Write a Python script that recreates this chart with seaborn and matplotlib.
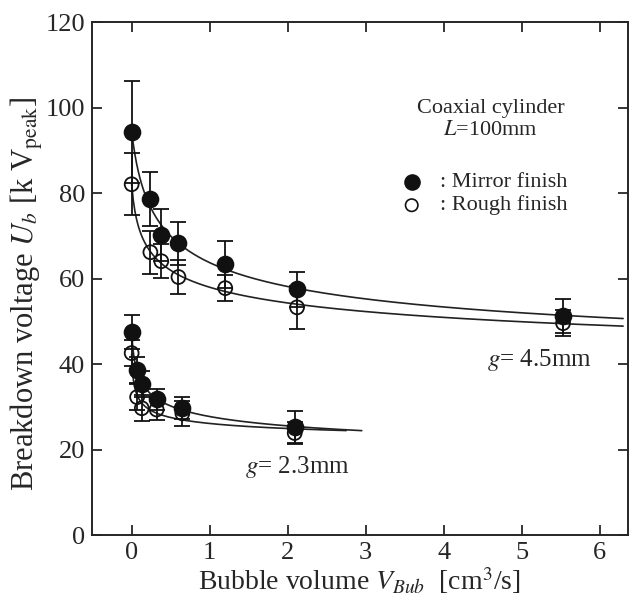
import numpy as np
import pandas as pd
import matplotlib
matplotlib.use("Agg")
import matplotlib.pyplot as plt
import seaborn as sns

# g = 4.5 mm
x45 = [0.0, 0.24, 0.38, 0.6, 1.2, 2.12, 5.53]
mirror45 = [94.3, 78.6, 70.2, 68.3, 63.4, 57.5, 51.2]
mirror45_err = [12.0, 6.3, 6.0, 5.0, 5.5, 4.0, 4.0]
rough45 = [82.1, 66.2, 64.1, 60.4, 57.8, 53.3, 49.6]
rough45_err = [7.2, 5.0, 4.0, 4.0, 3.0, 5.0, 3.0]

# g = 2.3 mm
x23 = [0.0, 0.07, 0.13, 0.32, 0.65, 2.09]
mirror23 = [47.5, 38.6, 35.3, 31.8, 29.7, 25.3]
mirror23_err = [4.0, 3.0, 3.0, 2.5, 2.6, 3.8]
rough23 = [42.6, 32.3, 29.7, 29.4, 28.5, 23.9]
rough23_err = [3.0, 3.0, 3.0, 2.5, 3.0, 2.6]

curve_end = {"m45": 6.3, "r45": 6.3, "m23": 2.95, "r23": 2.75}


def fit_curve(x, y, x_end):
    # U = a + b * (x + c)^(-n); c, n by grid search, a, b by least squares
    x = np.asarray(x)
    y = np.asarray(y)
    best = None
    for c in np.logspace(-2, 0.5, 80):
        for n in np.linspace(0.1, 3.0, 59):
            A = np.column_stack([np.ones_like(x), (x + c) ** (-n)])
            coef, _, _, _ = np.linalg.lstsq(A, y, rcond=None)
            r = np.sum((A @ coef - y) ** 2)
            if best is None or r < best[0]:
                best = (r, c, n, coef)
    _, c, n, (a, b) = best
    xs = np.linspace(0, x_end, 300)
    return xs, a + b * (xs + c) ** (-n)


sns.set_style("ticks")
plt.rcParams["font.family"] = ["Liberation Serif", "DejaVu Serif"]
plt.rcParams["mathtext.fontset"] = "stix"

fig = plt.figure(figsize=(6.38, 6.02), dpi=100)
ax = fig.add_axes([0.144, 0.111, 0.840, 0.852])

series = [
    (x45, mirror45, mirror45_err, True, "m45"),
    (x45, rough45, rough45_err, False, "r45"),
    (x23, mirror23, mirror23_err, True, "m23"),
    (x23, rough23, rough23_err, False, "r23"),
]

for x, y, err, filled, key in series:
    xs, ys = fit_curve(x, y, curve_end[key])
    sns.lineplot(x=xs, y=ys, ax=ax, color="#222222", lw=1.2, zorder=2)
    ax.errorbar(x, y, yerr=err, fmt="none", ecolor="#111111",
                elinewidth=1.3, capsize=6, capthick=1.3, zorder=3)
    df = pd.DataFrame({"x": x, "y": y})
    sns.scatterplot(data=df, x="x", y="y", ax=ax, s=130 if filled else 100,
                    marker="o", facecolor="#111111" if filled else "none",
                    edgecolor="#111111", linewidth=1.3, zorder=4)

ax.set_xlim(-0.51, 6.36)
ax.set_ylim(0, 120)
ax.set_xticks(range(0, 7))
ax.set_yticks(range(0, 121, 20))
ax.tick_params(direction="in", length=7, width=1.3, top=True, right=True,
               labelsize=19, pad=5)
for s in ax.spines.values():
    s.set_linewidth(1.4)

ax.set_xlabel(r"Bubble volume $V_{Bub}$  [cm$^3$/s]", fontsize=20, labelpad=1)
ax.set_ylabel(r"Breakdown voltage $U_b$ [k V$_{\rm peak}$]", fontsize=22)
ax.yaxis.set_label_coords(-0.088, 0.47)

ax.text(4.6, 99.9, "Coaxial cylinder", ha="center", va="center", fontsize=16)
ax.text(4.6, 94.7, r"$L$=100mm", ha="center", va="center", fontsize=16)
ax.scatter([3.59], [82.6], s=120, color="#111111", zorder=4)
ax.scatter([3.59], [77.2], s=80, facecolor="none", edgecolor="#111111",
           linewidth=1.2, zorder=4)
ax.text(3.95, 82.6, ": Mirror finish", ha="left", va="center", fontsize=16)
ax.text(3.95, 77.2, ": Rough finish", ha="left", va="center", fontsize=16)

ax.text(4.56, 40.9, r"$g$= 4.5mm", ha="left", va="center", fontsize=18)
ax.text(1.45, 15.9, r"$g$= 2.3mm", ha="left", va="center", fontsize=18)

fig.savefig("out.png", dpi=100)
